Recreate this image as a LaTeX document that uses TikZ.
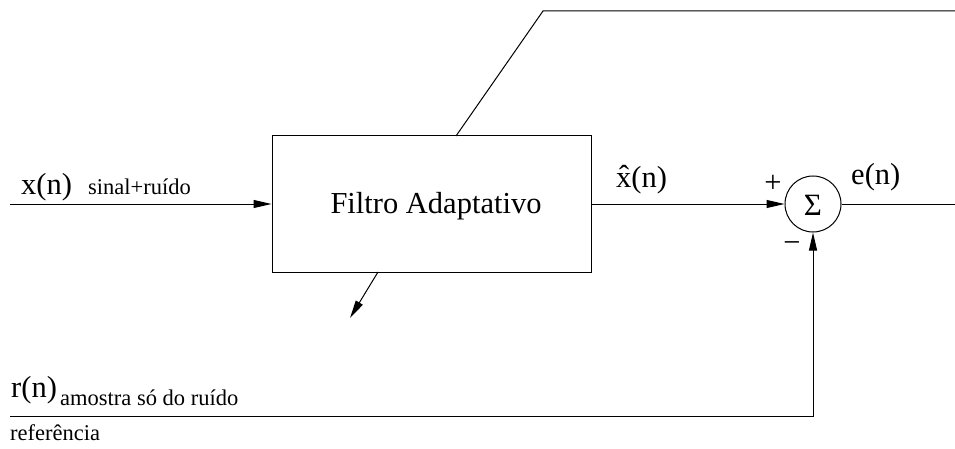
\documentclass[tikz,border=0pt]{standalone}
\usepackage{fontspec}
\setmainfont{Liberation Serif}
\usetikzlibrary{arrows.meta}
\begin{document}
\begin{tikzpicture}[x=1pt,y=-1pt,
  wire/.style={line width=1pt,draw=black},
  arr/.style={wire,-{Triangle[length=18pt,width=8pt]}},
  big/.style={font=\fontsize{30.5}{36}\selectfont,inner sep=0pt},
  small/.style={font=\fontsize{22.5}{26}\selectfont,inner sep=0pt}]
\useasboundingbox (0,0) rectangle (955,449);
% nodes
\node[wire,fill=white,rectangle,minimum width=319pt,minimum height=136pt,inner sep=0pt] (filt) at (431.5,204) {};
\node[big,anchor=base] (ftext) at (436,213) {Filtro Adaptativo};
\node[wire,circle,minimum size=56pt,inner sep=0pt] (sum) at (813,204) {};
\node[font=\fontsize{31}{34}\selectfont,inner sep=0pt] (sig) at (813,205) {Σ};
\coordinate (xin) at (10,204);
\coordinate (eout) at (955,204);
\coordinate (rin) at (10,416);
\coordinate (rcor) at (813,416);
\coordinate (dtop) at (456,136);
\coordinate (dk) at (543,11);
\coordinate (dend) at (955,11);
\coordinate (as) at (378,272);
\coordinate (ae) at (350,318);
% connectors
\draw[arr] (xin) -- (filt.west);
\draw[arr] (filt.east) -- (sum.west);
\draw[wire] (sum.east) -- (eout);
\draw[arr] (rin) -- (rcor) -- (sum.south);
\draw[wire] (dtop) -- (dk) -- (dend);
\draw[arr] (as) -- (ae);
% labels
\node[big,anchor=base west] (lx) at (21,194) {x(n)};
\node[small,anchor=base west] (ls) at (88,194) {sinal+ruído};
\node[big,anchor=base west] (lxh) at (616,187) {\^{x}(n)};
\node[big] (lp) at (773,184) {+};
\node[big] (lm) at (792,247) {−};
\node[big,anchor=base west] (le) at (851,185) {e(n)};
\node[big,anchor=base west] (lr) at (11,397) {r(n)};
\node[small,anchor=base west] (la) at (60,405) {amostra só do ruído};
\node[small,anchor=base west] (lref) at (10,440) {referência};
\end{tikzpicture}
\end{document}
